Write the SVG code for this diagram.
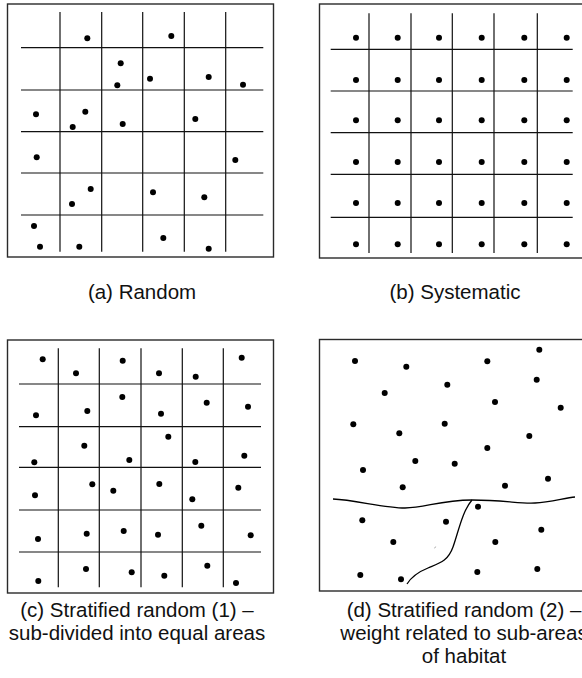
<svg xmlns="http://www.w3.org/2000/svg" width="582" height="678" viewBox="0 0 582 678">
<style>
.frame{fill:none;stroke:#2a2a2a;stroke-width:1.4}
.grid{stroke:#111;stroke-width:1.2;fill:none}
.dot{fill:#000}
.lbl{font-family:"Liberation Sans",Arial,sans-serif;font-size:20.5px;fill:#111;text-anchor:middle}
.curve{fill:none;stroke:#000;stroke-width:1.3}
</style>
<rect width="582" height="678" fill="#fff"/>
<g id="panel-a">
<rect class="frame" x="7.5" y="4" width="266" height="253"/>
<path class="grid" d="M21 47.7H263.3M21 90H263.3M21 131.7H263.3M21 173H263.3M21 215H263.3M60 12V251.7M101.7 12V251.7M142.7 12V251.7M184.3 12V251.7M225.7 12V251.7"/>
<g class="dot">
<circle cx="87.3" cy="38.3" r="3"/><circle cx="171.3" cy="36" r="3"/><circle cx="120.7" cy="63.3" r="3"/><circle cx="117.3" cy="85.3" r="3"/><circle cx="150" cy="78.7" r="3"/><circle cx="208.7" cy="77" r="3"/><circle cx="243" cy="84.7" r="3"/><circle cx="36" cy="114.3" r="3"/><circle cx="85.3" cy="111.7" r="3"/><circle cx="72.7" cy="127" r="3"/><circle cx="122.7" cy="124" r="3"/><circle cx="195.3" cy="119" r="3"/><circle cx="36.7" cy="157.3" r="3"/><circle cx="235.3" cy="160" r="3"/><circle cx="90.7" cy="189" r="3"/><circle cx="72" cy="204" r="3"/><circle cx="153" cy="192.3" r="3"/><circle cx="204.3" cy="197.3" r="3"/><circle cx="34" cy="226" r="3"/><circle cx="163.3" cy="238" r="3"/><circle cx="40" cy="246.7" r="3"/><circle cx="79.3" cy="246.7" r="3"/><circle cx="208.7" cy="248.7" r="3"/>
</g>
</g>
<g id="panel-b">
<rect class="frame" x="319.5" y="4" width="266" height="254"/>
<path class="grid" d="M330.7 49.3H572.7M330.7 91H572.7M330.7 132.7H572.7M330.7 174.3H572.7M330.7 217.3H572.7M369 13.3V253M411 13.3V253M452.3 13.3V253M494 13.3V253M537.3 13.3V253"/>
<g class="dot">
<circle cx="356" cy="37.7" r="3"/><circle cx="397.7" cy="37.7" r="3"/><circle cx="439" cy="37.7" r="3"/><circle cx="481.7" cy="37.7" r="3"/><circle cx="524.3" cy="37.7" r="3"/><circle cx="566.7" cy="37.7" r="3"/>
<circle cx="356" cy="80" r="3"/><circle cx="397.7" cy="80" r="3"/><circle cx="439" cy="80" r="3"/><circle cx="481.7" cy="80" r="3"/><circle cx="524.3" cy="80" r="3"/><circle cx="566.7" cy="80" r="3"/>
<circle cx="356" cy="120.3" r="3"/><circle cx="397.7" cy="120.3" r="3"/><circle cx="439" cy="120.3" r="3"/><circle cx="481.7" cy="120.3" r="3"/><circle cx="524.3" cy="120.3" r="3"/><circle cx="566.7" cy="120.3" r="3"/>
<circle cx="356" cy="162" r="3"/><circle cx="397.7" cy="162" r="3"/><circle cx="439" cy="162" r="3"/><circle cx="481.7" cy="162" r="3"/><circle cx="524.3" cy="162" r="3"/><circle cx="566.7" cy="162" r="3"/>
<circle cx="356" cy="203" r="3"/><circle cx="397.7" cy="203" r="3"/><circle cx="439" cy="203" r="3"/><circle cx="481.7" cy="203" r="3"/><circle cx="524.3" cy="203" r="3"/><circle cx="566.7" cy="203" r="3"/>
<circle cx="356" cy="244.3" r="3"/><circle cx="397.7" cy="244.3" r="3"/><circle cx="439" cy="244.3" r="3"/><circle cx="481.7" cy="244.3" r="3"/><circle cx="524.3" cy="244.3" r="3"/><circle cx="566.7" cy="244.3" r="3"/>
</g>
</g>
<g id="panel-c">
<rect class="frame" x="7.5" y="340" width="266" height="253"/>
<path class="grid" d="M19 384H261M19 426.7H261M19 467.3H261M19 510H261M19 552H261M58.3 348.3V587.3M99.3 348.3V587.3M141 348.3V587.3M182.3 348.3V587.3M223.3 348.3V587.3"/>
<g class="dot">
<circle cx="42.7" cy="359.3" r="3"/><circle cx="76" cy="373.3" r="3"/><circle cx="122.7" cy="360.7" r="3"/><circle cx="36" cy="415.3" r="3"/><circle cx="87.3" cy="411" r="3"/><circle cx="122.3" cy="397" r="3"/><circle cx="84.3" cy="445.7" r="3"/>
<circle cx="241.7" cy="357.7" r="3"/><circle cx="159" cy="373.3" r="3"/><circle cx="195.7" cy="376.7" r="3"/><circle cx="206.7" cy="402.7" r="3"/><circle cx="248" cy="406.7" r="3"/><circle cx="161" cy="413.7" r="3"/><circle cx="168.3" cy="436.7" r="3"/>
<circle cx="34.3" cy="462.3" r="3"/><circle cx="129.3" cy="460" r="3"/><circle cx="35" cy="495.3" r="3"/><circle cx="92.3" cy="484.3" r="3"/><circle cx="113.3" cy="490.7" r="3"/><circle cx="38" cy="539" r="3"/><circle cx="86.7" cy="533.7" r="3"/><circle cx="123.7" cy="531" r="3"/><circle cx="38.3" cy="581" r="3"/><circle cx="86" cy="569" r="3"/><circle cx="131.7" cy="572.3" r="3"/>
<circle cx="195.3" cy="462" r="3"/><circle cx="244.3" cy="455.7" r="3"/><circle cx="159.3" cy="484" r="3"/><circle cx="192.3" cy="499.3" r="3"/><circle cx="238.3" cy="487.7" r="3"/><circle cx="158" cy="534.7" r="3"/><circle cx="201.3" cy="525.7" r="3"/><circle cx="250.7" cy="535.3" r="3"/><circle cx="164.3" cy="575.7" r="3"/><circle cx="207.3" cy="565.7" r="3"/><circle cx="236" cy="583" r="3"/>
</g>
</g>
<g id="panel-d">
<rect class="frame" x="319.5" y="339.5" width="266" height="251.5"/>
<path class="curve" d="M333 499C355 500 385 508 405 508C425 508 440 500 472 500C505 500 520 504 535 503C550 502 565 498 575 497"/>
<path class="curve" d="M472 500C462 512 459 530 453 547C448 561 440 563 428 568C418 572 412 576 407 584"/>
<path d="M434.6 548.3L435.6 546.6" stroke="#888" stroke-width="0.8"/>
<g class="dot">
<circle cx="355" cy="361" r="3"/><circle cx="406.3" cy="366.7" r="3"/><circle cx="487.3" cy="361.3" r="3"/><circle cx="539.3" cy="349.7" r="3"/><circle cx="447.3" cy="384.7" r="3"/><circle cx="536.7" cy="379.7" r="3"/><circle cx="384.7" cy="393" r="3"/><circle cx="495" cy="402" r="3"/><circle cx="560.7" cy="407.7" r="3"/><circle cx="353.3" cy="424.3" r="3"/><circle cx="444.7" cy="423.7" r="3"/><circle cx="399.3" cy="433.3" r="3"/><circle cx="529.3" cy="436" r="3"/><circle cx="487.3" cy="448" r="3"/><circle cx="415.3" cy="461" r="3"/><circle cx="454.7" cy="463.7" r="3"/><circle cx="363" cy="470" r="3"/><circle cx="548" cy="478.7" r="3"/><circle cx="505" cy="485.7" r="3"/><circle cx="402.7" cy="487.3" r="3"/>
<circle cx="478" cy="506.7" r="3"/><circle cx="362.3" cy="520.3" r="3"/><circle cx="446" cy="521.7" r="3"/><circle cx="541.3" cy="529.7" r="3"/><circle cx="393.3" cy="542" r="3"/><circle cx="495.3" cy="542" r="3"/><circle cx="360.3" cy="575" r="3"/><circle cx="401" cy="579.3" r="3"/><circle cx="477.3" cy="572" r="3"/><circle cx="537.3" cy="569" r="3"/>
</g>
</g>
<g id="labels">
<text class="lbl" x="142" y="299">(a) Random</text>
<text class="lbl" x="455" y="299">(b) Systematic</text>
<text class="lbl" x="137" y="617">(c) Stratified random (1) –</text>
<text class="lbl" x="137" y="640">sub-divided into equal areas</text>
<text class="lbl" x="464" y="617">(d) Stratified random (2) –</text>
<text class="lbl" x="464" y="640">weight related to sub-areas</text>
<text class="lbl" x="464" y="663">of habitat</text>
</g>
</svg>
